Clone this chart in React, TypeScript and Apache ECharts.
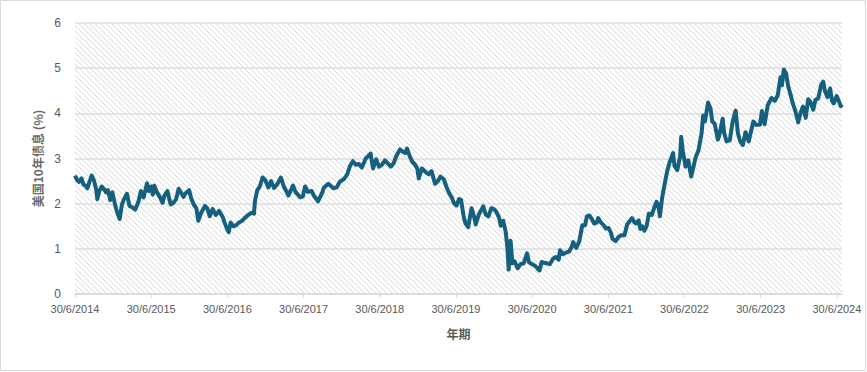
import React, { useEffect, useRef } from "react";
import * as echarts from "echarts";

const START = Date.UTC(2014, 5, 30);
const YEAR_MS = 365.25 * 86400000;

const tickYears = [2014, 2015, 2016, 2017, 2018, 2019, 2020, 2021, 2022, 2023, 2024];
const yTicks = [0, 1, 2, 3, 4, 5, 6];

const dates2014 = ["2014-06-30","2014-07-10","2014-07-20","2014-07-31","2014-08-10","2014-08-20","2014-08-28","2014-09-05","2014-09-18","2014-09-30","2014-10-10","2014-10-15","2014-10-24","2014-11-05","2014-11-15","2014-11-25","2014-12-05","2014-12-16","2014-12-26"];
const vals2014 = [2.62,2.52,2.48,2.56,2.42,2.40,2.34,2.45,2.62,2.50,2.30,2.10,2.27,2.38,2.33,2.25,2.30,2.08,2.25];

const dates2015 = ["2015-01-08","2015-01-16","2015-01-30","2015-02-10","2015-02-20","2015-03-06","2015-03-18","2015-03-31","2015-04-15","2015-04-30","2015-05-12","2015-05-25","2015-06-10","2015-06-19","2015-06-30","2015-07-08","2015-07-15","2015-07-28","2015-08-10","2015-08-24","2015-09-02","2015-09-16","2015-09-28","2015-10-02","2015-10-15","2015-10-28","2015-11-09","2015-11-20","2015-12-02","2015-12-10","2015-12-29"];
const vals2015 = [1.98,1.84,1.66,1.98,2.10,2.22,1.95,1.92,1.87,2.04,2.28,2.14,2.45,2.28,2.38,2.20,2.40,2.25,2.15,2.02,2.18,2.28,2.05,1.98,2.02,2.10,2.33,2.25,2.15,2.22,2.30];

const dates2016 = ["2016-01-08","2016-01-20","2016-02-02","2016-02-11","2016-02-25","2016-03-14","2016-03-25","2016-04-06","2016-04-20","2016-05-05","2016-05-20","2016-06-08","2016-06-16","2016-06-27","2016-07-06","2016-07-15","2016-07-28","2016-08-10","2016-08-23","2016-09-08","2016-09-20","2016-10-10","2016-10-25","2016-11-04","2016-11-09","2016-11-20","2016-12-02","2016-12-15","2016-12-28"];
const vals2016 = [2.12,1.98,1.90,1.62,1.80,1.95,1.90,1.72,1.88,1.75,1.84,1.70,1.58,1.45,1.37,1.58,1.50,1.52,1.58,1.62,1.68,1.76,1.80,1.78,2.07,2.30,2.38,2.58,2.52];

const dates2017 = ["2017-01-12","2017-01-25","2017-02-08","2017-02-22","2017-03-13","2017-03-27","2017-04-12","2017-04-18","2017-05-10","2017-05-22","2017-06-14","2017-06-26","2017-07-07","2017-07-20","2017-08-08","2017-08-18","2017-09-07","2017-09-25","2017-10-06","2017-10-26","2017-11-10","2017-11-20","2017-12-05","2017-12-20"];
const vals2017 = [2.36,2.50,2.35,2.42,2.58,2.38,2.24,2.18,2.40,2.26,2.14,2.16,2.38,2.26,2.28,2.18,2.05,2.22,2.36,2.44,2.38,2.34,2.36,2.48];

const dates2018 = ["2018-01-10","2018-01-25","2018-02-08","2018-02-21","2018-03-08","2018-03-21","2018-04-05","2018-04-24","2018-05-17","2018-05-29","2018-06-13","2018-06-27","2018-07-10","2018-07-25","2018-08-10","2018-08-22","2018-09-05","2018-09-18","2018-10-05","2018-10-16","2018-10-30","2018-11-08","2018-11-20","2018-12-04","2018-12-14","2018-12-27"];
const vals2018 = [2.55,2.65,2.84,2.94,2.86,2.88,2.80,3.00,3.11,2.78,2.98,2.82,2.86,2.96,2.88,2.82,2.90,3.06,3.20,3.16,3.12,3.22,3.06,2.92,2.88,2.78];

const dates2019 = ["2019-01-03","2019-01-18","2019-02-05","2019-02-20","2019-03-05","2019-03-22","2019-04-05","2019-04-17","2019-05-03","2019-05-15","2019-05-30","2019-06-10","2019-06-20","2019-07-03","2019-07-15","2019-07-25","2019-08-06","2019-08-15","2019-08-28","2019-09-13","2019-09-25","2019-10-03","2019-10-18","2019-11-08","2019-11-20","2019-12-03","2019-12-17","2019-12-30"];
const vals2019 = [2.56,2.78,2.70,2.65,2.72,2.44,2.50,2.60,2.54,2.38,2.22,2.14,2.02,1.96,2.10,2.08,1.72,1.56,1.48,1.90,1.72,1.54,1.76,1.94,1.76,1.72,1.90,1.88];

const dates2020 = ["2020-01-10","2020-01-24","2020-01-31","2020-02-12","2020-02-24","2020-03-03","2020-03-09","2020-03-18","2020-03-27","2020-04-07","2020-04-21","2020-05-05","2020-05-20","2020-06-05","2020-06-15","2020-06-30","2020-07-15","2020-07-30","2020-08-04","2020-08-14","2020-08-25","2020-09-08","2020-09-22","2020-10-08","2020-10-21","2020-11-04","2020-11-10","2020-11-24","2020-12-10","2020-12-24"];
const vals2020 = [1.82,1.68,1.51,1.62,1.37,1.02,0.54,1.18,0.68,0.72,0.57,0.66,0.68,0.90,0.70,0.66,0.62,0.54,0.52,0.71,0.69,0.68,0.66,0.78,0.82,0.76,0.97,0.88,0.92,0.94];

const dates2021 = ["2021-01-06","2021-01-12","2021-01-27","2021-02-10","2021-02-25","2021-03-10","2021-03-19","2021-03-31","2021-04-12","2021-04-23","2021-05-05","2021-05-12","2021-05-26","2021-06-08","2021-06-18","2021-07-01","2021-07-12","2021-07-20","2021-08-04","2021-08-17","2021-08-30","2021-09-15","2021-09-28","2021-10-08","2021-10-21","2021-11-03","2021-11-10","2021-11-22","2021-11-30","2021-12-09","2021-12-20","2021-12-31"];
const vals2021 = [1.05,1.15,1.02,1.16,1.52,1.52,1.72,1.74,1.66,1.56,1.58,1.68,1.58,1.52,1.45,1.46,1.36,1.22,1.17,1.26,1.30,1.30,1.54,1.60,1.68,1.58,1.56,1.63,1.44,1.50,1.40,1.52];

const dates2022 = ["2022-01-10","2022-01-24","2022-02-08","2022-02-16","2022-02-24","2022-03-04","2022-03-15","2022-03-28","2022-04-08","2022-04-20","2022-05-06","2022-05-13","2022-05-26","2022-06-09","2022-06-14","2022-06-22","2022-07-05","2022-07-18","2022-08-01","2022-08-10","2022-08-22","2022-09-05","2022-09-20","2022-09-27","2022-10-06","2022-10-21","2022-11-02","2022-11-10","2022-11-22","2022-12-07","2022-12-13","2022-12-30"];
const vals2022 = [1.78,1.75,1.95,2.04,1.96,1.72,2.14,2.46,2.72,2.92,3.12,2.84,2.74,3.04,3.48,3.16,2.82,2.96,2.60,2.78,3.02,3.18,3.56,3.95,3.82,4.24,4.10,3.82,3.76,3.42,3.50,3.88];

const dates2023 = ["2023-01-06","2023-01-18","2023-02-02","2023-02-15","2023-03-02","2023-03-13","2023-03-24","2023-04-06","2023-04-18","2023-05-04","2023-05-19","2023-05-26","2023-06-09","2023-06-27","2023-07-06","2023-07-19","2023-08-03","2023-08-21","2023-09-06","2023-09-20","2023-10-03","2023-10-10","2023-10-19","2023-10-30","2023-11-09","2023-11-20","2023-12-01","2023-12-13","2023-12-27"];
const vals2023 = [3.56,3.38,3.40,3.80,4.06,3.56,3.38,3.30,3.58,3.38,3.68,3.82,3.74,3.75,4.05,3.76,4.18,4.34,4.28,4.40,4.80,4.62,4.97,4.88,4.60,4.42,4.22,4.06,3.80];

const dates2024 = ["2024-01-08","2024-01-19","2024-02-01","2024-02-13","2024-02-23","2024-03-08","2024-03-19","2024-04-01","2024-04-15","2024-04-25","2024-05-03","2024-05-15","2024-05-28","2024-06-06","2024-06-14","2024-06-28","2024-07-08","2024-07-18","2024-07-24"];
const vals2024 = [4.02,4.15,3.90,4.31,4.26,4.08,4.30,4.33,4.63,4.70,4.50,4.36,4.55,4.28,4.22,4.38,4.28,4.16,4.20];

const allDates = [
  ...dates2014, ...dates2015, ...dates2016, ...dates2017, ...dates2018,
  ...dates2019, ...dates2020, ...dates2021, ...dates2022, ...dates2023, ...dates2024,
];
const allVals = [
  ...vals2014, ...vals2015, ...vals2016, ...vals2017, ...vals2018,
  ...vals2019, ...vals2020, ...vals2021, ...vals2022, ...vals2023, ...vals2024,
];

function toYearFrac(d: string): number {
  const [y, m, dd] = d.split("-").map(Number);
  return (Date.UTC(y, m - 1, dd) - START) / YEAR_MS;
}

function makeHatch(): HTMLCanvasElement {
  const n = 11;
  const step = 5.5;
  const c = document.createElement("canvas");
  c.width = n;
  c.height = n;
  const ctx = c.getContext("2d")!;
  ctx.fillStyle = "#ffffff";
  ctx.fillRect(0, 0, n, n);
  ctx.strokeStyle = "#d6d6d6";
  ctx.lineWidth = 1;
  ctx.beginPath();
  for (let k = -2; k <= 2; k++) {
    const off = k * step;
    ctx.moveTo(-2 + off, -2);
    ctx.lineTo(n + 2 + off, n + 2);
  }
  ctx.stroke();
  return c;
}

export default function App() {
  const ref = useRef<HTMLDivElement>(null);
  useEffect(() => {
    document.body.style.margin = "0";
    if (!ref.current) return;
    const chart = echarts.init(ref.current, undefined, { renderer: "svg" });
    const data = allDates.map((d, i) => [toYearFrac(d), allVals[i]]);
    const xMax = toYearFrac(allDates[allDates.length - 1]);
    chart.setOption({
      animation: false,
      backgroundColor: "#ffffff",
      grid: {
        left: 75,
        right: 867 - 842,
        top: 23,
        bottom: 372 - 294,
        show: true,
        borderWidth: 0,
        backgroundColor: { image: makeHatch(), repeat: "repeat" },
      },
      xAxis: {
        type: "value",
        min: 0,
        max: xMax,
        interval: 1,
        name: "年期",
        nameLocation: "middle",
        nameGap: 33,
        nameTextStyle: {
          color: "#595959",
          fontSize: 12,
          fontWeight: "bold",
          fontFamily: "Noto Sans CJK SC",
        },
        axisLine: { show: true, lineStyle: { color: "#d9d9d9", width: 1.5 } },
        axisTick: { show: true, length: 4, lineStyle: { color: "#d9d9d9" } },
        splitLine: { show: false },
        axisLabel: {
          color: "#595959",
          fontSize: 11,
          fontFamily: "Liberation Sans",
          margin: 9,
          showMaxLabel: false,
          formatter: (v: number) => {
            const idx = Math.round(v);
            return Math.abs(v - idx) < 0.01 && idx < tickYears.length ? `30/6/${tickYears[idx]}` : "";
          },
        },
      },
      yAxis: {
        type: "value",
        min: yTicks[0],
        max: yTicks[yTicks.length - 1],
        interval: 1,
        name: "美国10年债息 (%)",
        nameLocation: "middle",
        nameGap: 31,
        nameTextStyle: {
          color: "#6b6b6b",
          fontSize: 12,
          fontWeight: "bold",
          fontFamily: "Noto Sans CJK SC",
        },
        axisLine: { show: false },
        axisTick: { show: false },
        splitLine: { show: true, lineStyle: { color: "#dedede", width: 1.5 } },
        axisLabel: {
          color: "#595959",
          fontSize: 12,
          fontFamily: "Liberation Sans",
          margin: 14,
        },
      },
      graphic: [
        {
          type: "rect",
          shape: { x: 0.5, y: 0.5, width: 865, height: 370 },
          style: { fill: "none", stroke: "#d9d9d9", lineWidth: 1 },
          silent: true,
        },
      ],
      series: [
        {
          type: "line",
          data,
          showSymbol: false,
          symbol: "none",
          lineStyle: { color: "#15607f", width: 4, join: "round" },
          smooth: false,
        },
      ],
    });
    return () => chart.dispose();
  }, []);
  return <div ref={ref} style={{ width: 867, height: 372 }} />;
}
